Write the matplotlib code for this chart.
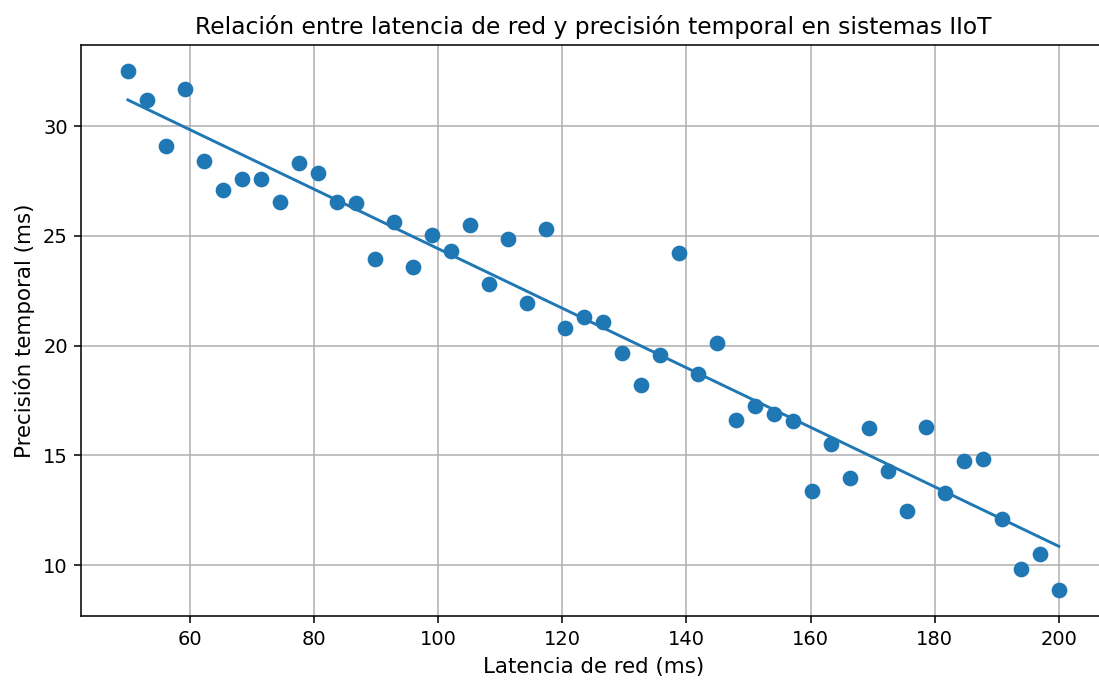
import numpy as np
import matplotlib
matplotlib.use("Agg")
import matplotlib.pyplot as plt

latencia = np.linspace(50, 200, 50)
precision = [32.5, 31.2, 29.1, 31.7, 28.4, 27.1, 27.6, 27.6, 26.55, 28.3,
             27.85, 26.55, 26.5, 23.95, 25.65, 23.6, 25.05, 24.3, 25.5, 22.8,
             24.85, 21.95, 25.3, 20.8, 21.3, 21.05, 19.65, 18.2, 19.55, 24.2,
             18.7, 20.1, 16.6, 17.25, 16.9, 16.55, 13.35, 15.5, 13.95, 16.25,
             14.3, 12.45, 16.3, 13.3, 14.75, 14.85, 12.1, 9.8, 10.5, 8.85]
precision = np.array(precision)

titulo = "Relación entre latencia de red y precisión temporal en sistemas IIoT"
xlabel = "Latencia de red (ms)"
ylabel = "Precisión temporal (ms)"

DPI = 140
fig = plt.figure(figsize=(1099 / DPI, 680 / DPI), dpi=DPI)
ax = fig.add_axes([81.4 / 1099, 0.0938, 1024 / 1099, 0.8397])
ax.scatter(latencia, precision, s=50, color="#1f77b4", zorder=3)
m, b = np.polyfit(latencia, precision, 1)
ax.plot(latencia, m * latencia + b, color="#1f77b4", zorder=3)
ax.grid(True)
ax.set_axisbelow(True)
ax.set_title(titulo, fontsize=12)
ax.set_xlabel(xlabel, fontsize=11)
ax.set_ylabel(ylabel, fontsize=11)
ax.tick_params(labelsize=10)
fig.savefig("out.png", dpi=DPI)
